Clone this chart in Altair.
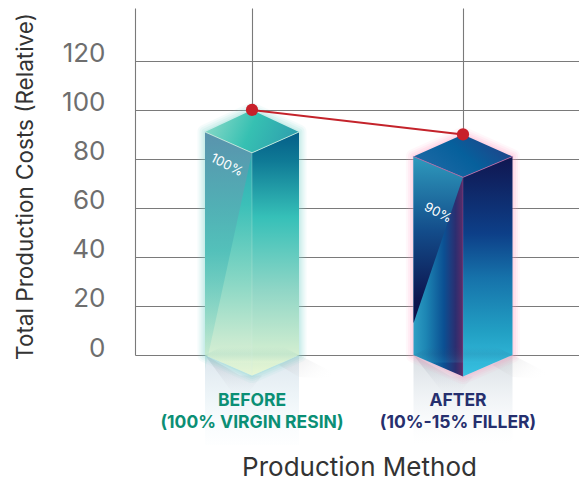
import altair as alt
import pandas as pd

# ---- chart values ----
categories = ["BEFORE\n(100% VIRGIN RESIN)", "AFTER\n(10%-15% FILLER)"]
positions = [0.0, 1.0]
values = [100, 90]
percent_labels = ["100%", "90%"]
percent_heights = [77.5, 58]
y_ticks = [0, 20, 40, 60, 80, 100, 120]
label_colors = ["#0b8f75", "#262f6e"]
font = "Inter"

X_DOMAIN = [-0.5545, 1.5498]
Y_DOMAIN = [0, 141.6]
GRID = "#7a7a7a"
PX_X = 211.0
PX_Y = 2.45


def px(n):
    return n / PX_X


def py(n):
    return n / PX_Y


xs = alt.Scale(domain=X_DOMAIN, nice=False, zero=False)
ys = alt.Scale(domain=Y_DOMAIN, nice=False, zero=False)
X = alt.X("x:Q", scale=xs, axis=None)
Y = alt.Y("y:Q", scale=ys, axis=None, stack=None)


def grad(stops, x1=0, y1=0, x2=0, y2=1):
    return alt.LinearGradient(
        gradient="linear", x1=x1, y1=y1, x2=x2, y2=y2,
        stops=[alt.GradientStop(offset=o, color=c) for o, c in stops],
    )


def poly(rows, **mark):
    """rows = (x, y_upper, y_lower)"""
    df = pd.DataFrame(rows, columns=["x", "y", "y2"])
    return alt.Chart(df).mark_area(orient="vertical", clip=False, **mark).encode(x=X, y=Y, y2="y2:Q")


def bar_layers(cx, v, hw_px, depth, apex, left_fill, right_fill, top_fill, shard_fill,
               shard_end, edge, halo, bottom_fill, refl_fill, shadow_col):
    hw = px(hw_px)
    l, r = cx - hw, cx + hw
    corner = v - depth
    front = v - 2 * depth + 0.5
    layers = []
    # reflection on the floor
    refl = py(90)
    layers.append(poly([(l, 0, -refl), (cx, apex, -refl), (r, 0, -refl)], fill=refl_fill))
    # cast shadows
    layers.append(poly([(l, 0, 0), (cx - px(12), apex, -py(48)), (cx + px(10), apex, apex)],
                       fill=grad([(0, shadow_col), (1, "rgba(255,255,255,0)")])))
    layers.append(poly([(r - px(20), -py(10), -py(10)), (r, 0, -py(22)), (r + px(47), -py(24), -py(24))],
                       fill=grad([(0, "rgba(170,170,175,0.35)"), (1, "rgba(255,255,255,0)")], x1=0, y1=0, x2=1, y2=0.5)))
    # halo
    hexagon = [(l, corner, 0), (cx, v, apex), (r, corner, 0)]
    for w, op in [(15, 0.08), (11, 0.10), (7, 0.13), (3, 0.16)]:
        layers.append(poly(hexagon, fill=halo, stroke=halo, strokeWidth=w, opacity=op, strokeJoin="round"))
    # faces
    layers.append(poly([(l, corner, 0), (cx, front, apex)], fill=left_fill))
    layers.append(poly([(cx, front, apex), (r, corner, 0)], fill=right_fill))
    layers.append(poly([(l, corner, corner), (cx, v, front), (r, corner, corner)], fill=top_fill))
    layers.append(poly([(l, corner, shard_end), (cx, front, front)], fill=shard_fill))
    layers.append(poly([(l, 0, 0), (l + px(16), py(8), -py(7.5)), (r - px(16), py(8), -py(7.5)), (r, 0, 0)], fill=bottom_fill))
    # highlight along the top's front edges and the vertical edge
    e = pd.DataFrame({"x": [l, cx, r], "y": [corner, front, corner]})
    layers.append(alt.Chart(e).mark_line(stroke=edge, strokeWidth=1, opacity=0.8, clip=False).encode(x=X, y=Y))
    e2 = pd.DataFrame({"x": [cx, cx], "y": [front, apex]})
    layers.append(alt.Chart(e2).mark_line(stroke=edge, strokeWidth=0.8, opacity=0.35, clip=False).encode(x=X, y=Y))
    return layers


before = bar_layers(
    positions[0], values[0], 47, 9, -8.4,
    left_fill=grad([(0, "#2a9db0"), (0.3, "#3cc0b8"), (0.6, "#85d6c4"), (0.85, "#c6e9d0"), (1, "#e6f5d6")]),
    right_fill=grad([(0, "#045e88"), (0.12, "#0f7a96"), (0.35, "#36c0b8"), (0.65, "#90d6c6"), (1, "#e8f6d4")]),
    top_fill=grad([(0, "#8bdac8"), (0.5, "#36c0b2"), (1, "#2fa0ae")], x1=0, y1=0.3, x2=1, y2=0.5),
    shard_fill=grad([(0, "#5a93ad"), (0.5, "rgba(80,190,185,0.85)"), (1, "rgba(150,220,200,0.15)")]),
    shard_end=-6,
    edge="#d8f2e4",
    halo="#7fd8d0",
    bottom_fill=grad([(0, "rgba(150,205,190,0.0)"), (0.45, "rgba(150,205,190,0.22)"), (1, "rgba(235,248,215,0.3)")]),
    refl_fill=grad([(0, "rgba(190,208,222,0.55)"), (0.5, "rgba(215,232,240,0.4)"), (1, "rgba(240,248,252,0.1)")]),
    shadow_col="rgba(120,130,150,0.30)",
)
after = bar_layers(
    positions[1], values[1], 49.5, 9, -8.8,
    left_fill=grad([(0, "#2f9fc4"), (0.25, "#1d86b4"), (0.62, "#0b4f92"), (0.85, "#2c2e70"), (1, "#5c2c68")], x1=0, y1=0.5, x2=1, y2=0.5),
    right_fill=grad([(0, "#101650"), (0.35, "#0d3f88"), (0.55, "#1672aa"), (0.8, "#22a0c4"), (1, "#38c2e2")]),
    top_fill=grad([(0, "#1f6aa6"), (0.5, "#06609c"), (1, "#243f86")], x1=0, y1=0.7, x2=1, y2=0.2),
    shard_fill=grad([(0, "#2e9abd"), (0.45, "#134c8a"), (0.85, "#0d1650"), (1, "#0a0f48")]),
    shard_end=13,
    edge="#c66aa8",
    halo="#ff9fc4",
    bottom_fill=grad([(0, "rgba(40,90,130,0.0)"), (0.45, "rgba(40,90,130,0.12)"), (1, "rgba(60,195,230,0.15)")]),
    refl_fill=grad([(0, "rgba(190,200,208,0.6)"), (0.6, "rgba(225,232,238,0.35)"), (1, "rgba(245,248,250,0.0)")]),
    shadow_col="rgba(120,130,150,0.30)",
)

# Axes carrying the grid
base_df = pd.DataFrame({"x": positions, "y": values})
axes = alt.Chart(base_df).mark_point(opacity=0).encode(
    x=alt.X("x:Q", scale=xs, axis=alt.Axis(
        values=positions, grid=True, gridColor=GRID, gridWidth=1.1, labels=False, ticks=False,
        domain=False, title="Production Method", titleFont=font, titleFontSize=26,
        titleFontWeight="normal", titleColor="#333333", titleX=224, titleY=120,
        titleAlign="center", titleBaseline="alphabetic")),
    y=alt.Y("y:Q", scale=ys, axis=alt.Axis(
        values=y_ticks, grid=True, gridColor=GRID, gridWidth=1.1, ticks=False, domain=True,
        domainColor=GRID, domainWidth=1.1, labelFont=font, labelFontSize=26, labelColor="#6e6e6e",
        labelPadding=30, labelOffset=-7, labelFontWeight="normal",
        title="Total Production Costs (Relative)", titleFont=font, titleFontSize=22.5,
        titleFontWeight="normal", titleColor="#333333", titleX=-110, titleY=178,
        titleAngle=-90, titleAlign="center", titleBaseline="middle")),
)

trend = alt.Chart(base_df).mark_line(color="#c4232b", strokeWidth=2, clip=False).encode(x=X, y=Y)
dots = alt.Chart(base_df).mark_point(filled=True, color="#c8202a", size=150, opacity=1, clip=False).encode(x=X, y=Y)

pct = pd.DataFrame({
    "x": [p - px(25) for p in positions],
    "y": percent_heights,
    "t": percent_labels,
})
pct_marks = alt.Chart(pct).mark_text(font=font, fontSize=13, color="white", angle=27, clip=False).encode(
    x=X, y=Y, text="t:N")

cat = pd.DataFrame({"x": [positions[0], positions[1] - px(5)], "y": [-py(46)] * 2,
                    "t": categories, "c": label_colors})
cat_marks = alt.Chart(cat).mark_text(font=font, fontSize=17.5, fontWeight="bold", lineBreak="\n",
                                     lineHeight=22, baseline="middle", clip=False).encode(
    x=X, y=Y, text="t:N", color=alt.Color("c:N", scale=None))

chart = alt.layer(axes, *before, *after, trend, dots, pct_marks, cat_marks).resolve_axis(
    x="independent", y="independent"
).properties(
    width=444, height=347,
    padding={"left": 127, "top": 0, "right": 0, "bottom": 128},
    autosize=alt.AutoSizeParams(type="none"),
    background="white",
).configure_view(stroke=None)

chart.save("out.html", embed_options={"renderer": "svg", "actions": False})
